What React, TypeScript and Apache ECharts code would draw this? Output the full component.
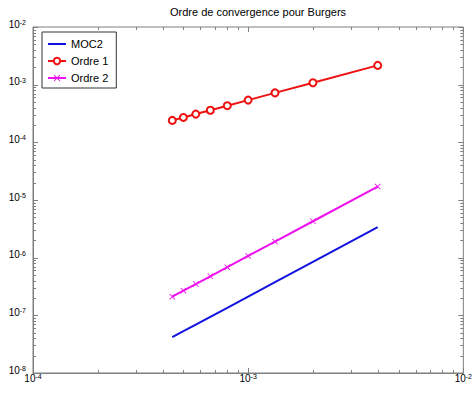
import React, { useEffect, useRef } from 'react';
import * as echarts from 'echarts';

// Step sizes (h) on x, errors on y
const stepSizes = [4.0e-3, 2.0e-3, 1.333e-3, 1.0e-3, 8.0e-4, 6.67e-4, 5.71e-4, 5.0e-4, 4.44e-4];
const moc2Errors = [3.38e-6, 8.45e-7, 3.76e-7, 2.11e-7, 1.35e-7, 9.4e-8, 6.9e-8, 5.3e-8, 4.2e-8];
const ordre1Values = [2.16e-3, 1.08e-3, 7.2e-4, 5.4e-4, 4.32e-4, 3.6e-4, 3.09e-4, 2.7e-4, 2.4e-4];
const ordre2Values = [1.71e-5, 4.28e-6, 1.9e-6, 1.07e-6, 6.85e-7, 4.76e-7, 3.49e-7, 2.68e-7, 2.11e-7];

const seriesNames = ['MOC2', 'Ordre 1', 'Ordre 2'];
const xDecades = [1e-4, 1e-3, 1e-2];
const yDecades = [1e-8, 1e-7, 1e-6, 1e-5, 1e-4, 1e-3, 1e-2];
const minorMultipliers = [2, 3, 4, 5, 6, 7, 8, 9];

const FONT = '"Liberation Sans", Arial, Helvetica, sans-serif';
const LINE_ICON = 'path://M0,0 L0.01,0 L0.01,0.01 Z M0,3 L18,3 L18,5 L0,5 Z M17.99,8 L18,8 L18,7.99 Z';

function buildTicks() {
  const items: number[][] = [];
  xDecades.forEach((d, i) => {
    items.push([d, 1e-5, 5, 0]);
    if (i < xDecades.length - 1) minorMultipliers.forEach((m) => items.push([d * m, 1e-5, 3, 0]));
  });
  yDecades.forEach((d, i) => {
    items.push([1e-3, d, 5, 1]);
    if (i < yDecades.length - 1) minorMultipliers.forEach((m) => items.push([1e-3, d * m, 3, 1]));
  });
  return items;
}

const labelFmt = (v: number) => `{b|10}{e|${Math.round(Math.log10(v))}}`;
const richStyles = {
  b: { fontSize: 10, lineHeight: 10, verticalAlign: 'bottom', fontFamily: FONT, color: '#000' },
  e: { fontSize: 7, lineHeight: 7, verticalAlign: 'top', fontFamily: FONT, color: '#000' },
};

export default function App() {
  const ref = useRef<HTMLDivElement>(null);
  useEffect(() => {
    if (!ref.current) return;
    const chart = echarts.init(ref.current, undefined, { renderer: 'svg' });
    const tickColor = '#7f7f7f';
    chart.setOption({
      animation: false,
      backgroundColor: '#fff',
      title: {
        text: 'Ordre de convergence pour Burgers',
        left: 170,
        top: 6,
        padding: 0,
        textStyle: { fontSize: 11, fontWeight: 'normal', color: '#000', fontFamily: FONT },
      },
      legend: {
        data: [
          { name: seriesNames[0], icon: LINE_ICON },
          { name: seriesNames[1] },
          { name: seriesNames[2] },
        ],
        orient: 'vertical',
        left: 42,
        top: 32,
        padding: [6, 8, 4, 5],
        itemGap: 5,
        itemWidth: 18,
        itemHeight: 8,
        borderColor: '#333',
        borderWidth: 1,
        backgroundColor: '#fff',
        textStyle: { fontSize: 11, lineHeight: 12, color: '#000', fontFamily: FONT },
      },
      grid: {
        left: 33,
        right: 3,
        top: 27,
        bottom: 24,
        show: true,
        borderColor: tickColor,
        borderWidth: 1,
        backgroundColor: 'transparent',
      },
      xAxis: {
        type: 'log',
        logBase: 10,
        min: 1e-4,
        max: 1e-2,
        splitNumber: 2,
        axisLine: { show: true, lineStyle: { color: tickColor } },
        axisTick: { show: false },
        splitLine: { show: false },
        axisLabel: {
          formatter: labelFmt,
          rich: richStyles,
          margin: 0,
          showMaxLabel: true,
          showMinLabel: true,
          alignMinLabel: 'center',
          alignMaxLabel: 'center',
          hideOverlap: false,
        },
      },
      yAxis: {
        type: 'log',
        logBase: 10,
        min: 1e-8,
        max: 1e-2,
        splitNumber: 6,
        axisLine: { show: true, lineStyle: { color: tickColor } },
        axisTick: { show: false },
        splitLine: { show: false },
        axisLabel: { formatter: labelFmt, rich: richStyles, margin: 7, padding: [0, 0, 6, 0] },
      },
      series: [
        {
          type: 'custom',
          name: 'ticks',
          silent: true,
          clip: false,
          data: buildTicks(),
          renderItem: (params: any, api: any) => {
            const cs = params.coordSys;
            const len = api.value(2);
            const isY = api.value(3) === 1;
            const style = { stroke: tickColor, lineWidth: 1 };
            if (!isY) {
              const x = Math.round(api.coord([api.value(0), 1e-5])[0]) + 0.5;
              return {
                type: 'group',
                children: [
                  { type: 'line', shape: { x1: x, y1: cs.y + cs.height, x2: x, y2: cs.y + cs.height - len }, style },
                  { type: 'line', shape: { x1: x, y1: cs.y, x2: x, y2: cs.y + len }, style },
                ],
              };
            }
            const y = Math.round(api.coord([1e-3, api.value(1)])[1]) + 0.5;
            return {
              type: 'group',
              children: [
                { type: 'line', shape: { x1: cs.x, y1: y, x2: cs.x + len, y2: y }, style },
                { type: 'line', shape: { x1: cs.x + cs.width, y1: y, x2: cs.x + cs.width - len, y2: y }, style },
              ],
            };
          },
        },
        {
          name: 'MOC2',
          type: 'line',
          data: stepSizes.map((x, i) => [x, moc2Errors[i]]),
          showSymbol: false,
          symbol: 'none',
          lineStyle: { color: '#1212e0', width: 2 },
          itemStyle: { color: '#1212e0' },
        },
        {
          name: 'Ordre 1',
          type: 'line',
          data: stepSizes.map((x, i) => [x, ordre1Values[i]]),
          symbol: 'emptyCircle',
          symbolSize: 7,
          lineStyle: { color: '#ee1111', width: 2 },
          itemStyle: { color: '#ee1111', borderColor: '#ee1111', borderWidth: 1.6 },
        },
        {
          name: 'Ordre 2',
          type: 'line',
          data: stepSizes.map((x, i) => [x, ordre2Values[i]]),
          symbol: 'path://M0,1 L1,0 L5,4 L9,0 L10,1 L6,5 L10,9 L9,10 L5,6 L1,10 L0,9 L4,5 Z',
          symbolSize: 6,
          lineStyle: { color: '#ee11ee', width: 2 },
          itemStyle: { color: '#ee11ee' },
        },
      ],
    });
    return () => chart.dispose();
  }, []);
  return <div ref={ref} style={{ position: 'fixed', left: 0, top: 0, width: 475, height: 397 }} />;
}
